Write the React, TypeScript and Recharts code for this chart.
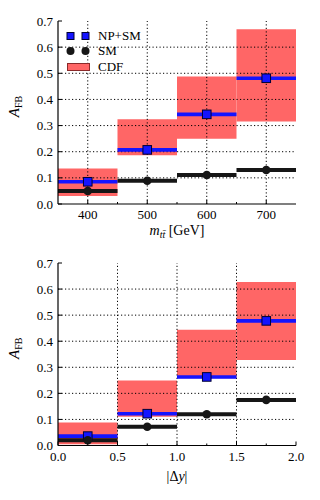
import React from 'react';
import { ComposedChart, XAxis, YAxis, Scatter, ReferenceArea, ReferenceLine, Label } from 'recharts';

const FONT = "'Liberation Serif', 'DejaVu Serif', serif";
const RED = '#ff6666';
const BLUE = '#1414ff';
const DARK = '#161616';

// top panel: invariant mass bins
const massEdges = [350, 450, 550, 650, 750];
const massCenters = [400, 500, 600, 700];
const massTicks = [400, 500, 600, 700];
const massMinor = [450, 550, 650];
const massCdfLow = [0.031, 0.186, 0.25, 0.316];
const massCdfHigh = [0.136, 0.324, 0.488, 0.668];
const massNpSm = [0.085, 0.207, 0.343, 0.481];
const massSm = [0.05, 0.089, 0.111, 0.13];

// bottom panel: rapidity difference bins
const dyEdges = [0, 0.5, 1.0, 1.5, 2.0];
const dyCenters = [0.25, 0.75, 1.25, 1.75];
const dyTicks = [0, 0.5, 1.0, 1.5, 2.0];
const dyMinor = [0.25, 0.75, 1.25, 1.75];
const dyCdfLow = [0.005, 0.11, 0.258, 0.328];
const dyCdfHigh = [0.088, 0.249, 0.444, 0.627];
const dyNpSm = [0.036, 0.122, 0.263, 0.478];
const dySm = [0.02, 0.072, 0.12, 0.175];

const afbTicks = [0, 0.1, 0.2, 0.3, 0.4, 0.5, 0.6, 0.7];
const afbGrid = [0.1, 0.2, 0.3, 0.4, 0.5, 0.6];

const isIn = (list: number[], v: number) => list.some((m) => Math.abs(m - v) < 1e-9);

function xTick(majors: number[], side: 'bottom' | 'top', fmt?: (v: number) => string) {
  return (props: any) => {
    const { x, y, payload } = props;
    const major = isIn(majors, payload.value);
    const len = major ? 4 : 2;
    const dir = side === 'bottom' ? -1 : 1;
    return (
      <g>
        <line x1={x} x2={x} y1={y} y2={y + dir * len} stroke="#000" strokeWidth={1} />
        {fmt && major && (
          <text x={x} y={y + 15} textAnchor="middle" fontSize={13} fontFamily={FONT} fill="#000">
            {fmt(payload.value)}
          </text>
        )}
      </g>
    );
  };
}

function yTick(side: 'left' | 'right') {
  return (props: any) => {
    const { x, y, payload } = props;
    const dir = side === 'left' ? 1 : -1;
    return (
      <g>
        <line x1={x} x2={x + dir * 4} y1={y} y2={y} stroke="#000" strokeWidth={1} />
        {side === 'left' && (
          <text x={x - 5} y={y} dy="0.35em" textAnchor="end" fontSize={13} fontFamily={FONT} fill="#000">
            {payload.value.toFixed(1)}
          </text>
        )}
      </g>
    );
  };
}

const square = (props: any) => (
  <rect x={props.cx - 4.3} y={props.cy - 4.3} width={8.6} height={8.6} fill={BLUE} stroke="#000033" strokeWidth={1} />
);
const dot = (props: any) => <circle cx={props.cx} cy={props.cy} r={4.3} fill={DARK} />;

function PanelLegend({ top }: { top: number }) {
  const row = (dy: number, icon: React.ReactNode, text: string) => (
    <div style={{ position: 'absolute', left: 64, top: top + dy - 8, height: 16, display: 'flex', alignItems: 'center' }}>
      <svg width={30} height={16}>{icon}</svg>
      <span style={{ marginLeft: 4, fontFamily: FONT, fontSize: 13, lineHeight: '16px' }}>{text}</span>
    </div>
  );
  return (
    <>
      {row(14.5, <>
        <rect x={3} y={4.5} width={7} height={7} fill={BLUE} stroke="#000033" />
        <rect x={18} y={4.5} width={7} height={7} fill={BLUE} stroke="#000033" />
      </>, 'NP+SM')}
      {row(30, <>
        <circle cx={6.5} cy={8} r={4} fill={DARK} />
        <circle cx={21.5} cy={8} r={4} fill={DARK} />
      </>, 'SM')}
      {row(45.5, <rect x={3.5} y={4.5} width={22} height={7} fill={RED} stroke="#8a2a2a" strokeWidth={1} />, 'CDF')}
    </>
  );
}

type PanelProps = {
  edges: number[];
  centers: number[];
  low: number[];
  high: number[];
  npsm: number[];
  sm: number[];
  ticks: number[];
  minor: number[];
  grid: number[];
  fmt: (v: number) => string;
  marginTop: number;
  marginBottom: number;
  xLabel: (vb: any) => React.ReactNode;
};

function Panel(p: PanelProps) {
  const domain = [p.edges[0], p.edges[p.edges.length - 1]];
  const allTicks = [...p.ticks, ...p.minor].sort((a, b) => a - b);
  const squares = p.centers.map((x, i) => ({ x, y: p.npsm[i] }));
  const dots = p.centers.map((x, i) => ({ x, y: p.sm[i] }));
  const bins = p.centers.map((_, i) => i);
  return (
    <ComposedChart width={320} height={250} margin={{ top: p.marginTop, right: 24, bottom: p.marginBottom, left: 8 }}>
      <XAxis xAxisId="b" type="number" dataKey="x" domain={domain} ticks={allTicks} interval={0}
        orientation="bottom" height={30} tickSize={0} tickMargin={0} tickLine={false}
        axisLine={{ stroke: '#000', strokeWidth: 1.2 }} tick={xTick(p.ticks, 'bottom', p.fmt)} allowDataOverflow>
        <Label content={(props: any) => p.xLabel(props.viewBox)} />
      </XAxis>
      <XAxis xAxisId="t" type="number" domain={domain} ticks={allTicks} interval={0}
        orientation="top" height={0} tickSize={0} tickMargin={0} tickLine={false}
        axisLine={{ stroke: '#000', strokeWidth: 1.2 }} tick={xTick(p.ticks, 'top')} allowDataOverflow />
      <YAxis yAxisId="l" type="number" dataKey="y" domain={[0, 0.7]} ticks={afbTicks} interval={0}
        orientation="left" width={50} tickSize={0} tickMargin={0} tickLine={false}
        axisLine={{ stroke: '#000', strokeWidth: 1.2 }} tick={yTick('left')} allowDataOverflow>
        <Label content={(props: any) => {
          const vb = props.viewBox;
          const x = vb.x + 11;
          const y = vb.y + vb.height / 2 - 6;
          return (
            <text x={x} y={y} transform={`rotate(-90, ${x}, ${y})`} textAnchor="middle" fontFamily={FONT} fontSize={15} fill="#000">
              <tspan fontStyle="italic">A</tspan>
              <tspan fontSize={10} dy={3}>FB</tspan>
            </text>
          );
        }} />
      </YAxis>
      <YAxis yAxisId="r" type="number" domain={[0, 0.7]} ticks={afbTicks} interval={0}
        orientation="right" width={0} tickSize={0} tickMargin={0} tickLine={false}
        axisLine={{ stroke: '#000', strokeWidth: 1.2 }} tick={yTick('right')} allowDataOverflow />

      {bins.map((i) => (
        <ReferenceArea key={`cdf${i}`} xAxisId="b" yAxisId="l" x1={p.edges[i]} x2={p.edges[i + 1]}
          y1={p.low[i]} y2={p.high[i]} fill={RED} fillOpacity={1} stroke="none" />
      ))}
      {p.grid.map((v) => (
        <ReferenceLine key={`gx${v}`} xAxisId="b" yAxisId="l" x={v} stroke="#000" strokeWidth={1} strokeDasharray="1.2 2.3" />
      ))}
      {afbGrid.map((v) => (
        <ReferenceLine key={`gy${v}`} xAxisId="b" yAxisId="l" y={v} stroke="#000" strokeWidth={1} strokeDasharray="1.2 2.3" />
      ))}
      {bins.map((i) => (
        <ReferenceLine key={`np${i}`} xAxisId="b" yAxisId="l" stroke={BLUE} strokeWidth={3.6}
          segment={[{ x: p.edges[i], y: p.npsm[i] }, { x: p.edges[i + 1], y: p.npsm[i] }]} />
      ))}
      {bins.map((i) => (
        <ReferenceLine key={`sm${i}`} xAxisId="b" yAxisId="l" stroke={DARK} strokeWidth={4}
          segment={[{ x: p.edges[i], y: p.sm[i] }, { x: p.edges[i + 1], y: p.sm[i] }]} />
      ))}
      <Scatter xAxisId="b" yAxisId="l" data={squares} shape={square} isAnimationActive={false} />
      <Scatter xAxisId="b" yAxisId="l" data={dots} shape={dot} isAnimationActive={false} />
    </ComposedChart>
  );
}

export default function App() {
  return (
    <div style={{ position: 'absolute', left: 0, top: 0, width: 320, height: 500, background: '#fff' }}>
      <div style={{ position: 'absolute', left: 0, top: 0 }}>
        <Panel edges={massEdges} centers={massCenters} low={massCdfLow} high={massCdfHigh}
          npsm={massNpSm} sm={massSm} ticks={massTicks} minor={massMinor} grid={massTicks}
          fmt={(v) => String(v)} marginTop={21} marginBottom={16}
          xLabel={(vb: any) => (
            <text x={vb.x + vb.width / 2} y={vb.y + 31} textAnchor="middle" fontFamily={FONT} fontSize={14} fill="#000">
              <tspan fontStyle="italic">m</tspan>
              <tspan fontStyle="italic" fontSize={10} dy={3}>{'tt\u0304'}</tspan>
              <tspan dy={-3}> [GeV]</tspan>
            </text>
          )} />
        <PanelLegend top={21} />
      </div>
      <div style={{ position: 'absolute', left: 0, top: 250 }}>
        <Panel edges={dyEdges} centers={dyCenters} low={dyCdfLow} high={dyCdfHigh}
          npsm={dyNpSm} sm={dySm} ticks={dyTicks} minor={dyMinor} grid={[0.5, 1.0, 1.5]}
          fmt={(v) => v.toFixed(1)} marginTop={13} marginBottom={24.5}
          xLabel={(vb: any) => (
            <text x={vb.x + vb.width / 2} y={vb.y + 35} textAnchor="middle" fontFamily={FONT} fontSize={14} fill="#000">
              {'|\u0394'}<tspan fontStyle="italic">y</tspan>{'|'}
            </text>
          )} />
        <PanelLegend top={263} />
      </div>
    </div>
  );
}
